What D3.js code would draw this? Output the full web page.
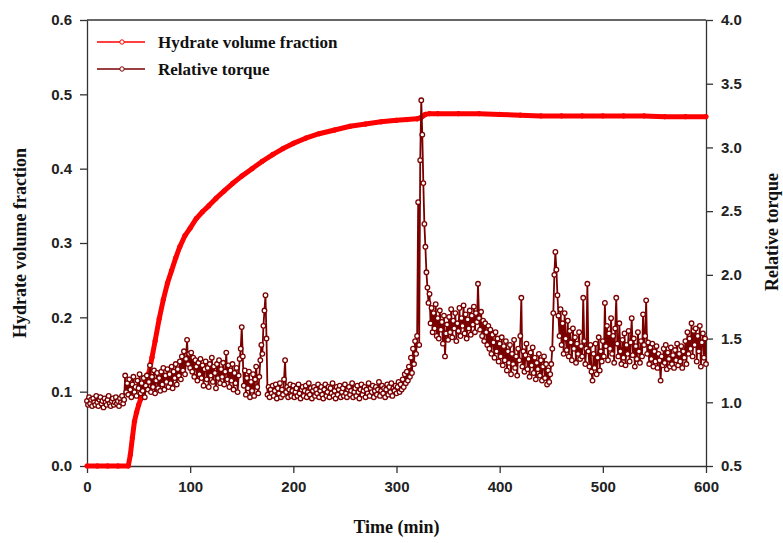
<!DOCTYPE html>
<html>
<head>
<meta charset="utf-8">
<script src="https://cdn.jsdelivr.net/npm/d3@7"></script>
<style>
	body { margin: 0; background: #fff; }
	.tick text { font-family: "Liberation Sans", Arial, sans-serif; font-weight: bold; font-size: 15px; fill: #222; }
	.axis path, .axis line { stroke: #333; stroke-width: 1.3; }
	.title { font-family: "Liberation Serif", "Times New Roman", serif; font-weight: bold; font-size: 18px; fill: #111; }
</style>
</head>
<body>
<script>
const WIDTH = 783;
const HEIGHT = 543;
const LEFT = 87, RIGHT = 706, TOP = 20, BOTTOM = 466;

const SERIES = ['Hydrate volume fraction', 'Relative torque'];
const X_TICKS = [0, 100, 200, 300, 400, 500, 600];
const LEFT_TICKS = [0.0, 0.1, 0.2, 0.3, 0.4, 0.5, 0.6];
const RIGHT_TICKS = [0.5, 1.0, 1.5, 2.0, 2.5, 3.0, 3.5, 4.0];

// hydrate volume fraction (left axis)
const hydrateTime = [0, 10, 20, 30, 40, 42, 44, 46, 48, 50, 52, 54, 56, 58, 60, 63, 66, 70, 74, 78,
	82, 86, 90, 95, 100, 106, 112, 118, 125, 133, 141, 150, 160, 170, 180, 190, 200, 212, 225, 240,
	255, 270, 285, 300, 310, 320, 324, 328, 332, 340, 360, 380, 400, 420, 440, 460, 480, 500, 520, 540,
	560, 580, 600];
const hydrateValue = [0, 0, 0, 0, 0, 0.015, 0.038, 0.060, 0.072, 0.082, 0.090, 0.097, 0.104, 0.112, 0.125, 0.146, 0.168, 0.198, 0.224, 0.246,
	0.263, 0.280, 0.295, 0.310, 0.320, 0.333, 0.342, 0.350, 0.360, 0.370, 0.380, 0.390, 0.400, 0.410, 0.419, 0.427, 0.434, 0.441, 0.447, 0.452,
	0.457, 0.460, 0.463, 0.465, 0.466, 0.467, 0.469, 0.473, 0.474, 0.474, 0.474, 0.474, 0.473, 0.472, 0.471, 0.471, 0.471, 0.471, 0.471, 0.471,
	0.470, 0.470, 0.470];

// relative torque (right axis), one reading per minute from 0 to 600
const torqueValue = [
	1.01, 0.98, 1.04, 0.99, 1.02, 0.97, 1.03, 1.00, 0.98, 1.05,
	1.00, 0.97, 1.02, 1.04, 0.99, 1.01, 0.96, 1.03, 1.00, 0.98,
	1.02, 1.05, 0.99, 0.97, 1.01, 1.03, 0.98, 1.00, 1.04, 0.99,
	1.01, 0.97, 1.03, 1.00, 1.05, 0.99, 1.02, 1.21, 1.08, 1.15,
	1.06, 1.18, 1.10, 1.04, 1.14, 1.20, 1.08, 1.12, 1.05, 1.17,
	1.11, 1.22, 1.07, 1.15, 1.09, 1.19, 1.04, 1.13, 1.21, 1.10,
	1.16, 1.29, 1.08, 1.20, 1.12, 1.25, 1.07, 1.17, 1.23, 1.11,
	1.19, 1.09, 1.24, 1.14, 1.27, 1.10, 1.21, 1.16, 1.26, 1.12,
	1.22, 1.15, 1.28, 1.11, 1.24, 1.19, 1.30, 1.14, 1.26, 1.21,
	1.32, 1.18, 1.36, 1.25, 1.40, 1.22, 1.34, 1.49, 1.30, 1.38,
	1.27, 1.39, 1.24, 1.35, 1.20, 1.33, 1.28, 1.17, 1.31, 1.22,
	1.34, 1.19, 1.29, 1.13, 1.26, 1.32, 1.18, 1.27, 1.12, 1.30,
	1.21, 1.35, 1.16, 1.28, 1.23, 1.11, 1.30, 1.19, 1.33, 1.15,
	1.26, 1.20, 1.31, 1.14, 1.24, 1.39, 1.18, 1.29, 1.12, 1.25,
	1.17, 1.30, 1.10, 1.23, 1.15, 1.27, 1.08, 1.21, 1.34, 1.42,
	1.59, 1.36, 1.13, 1.25, 1.06, 1.19, 1.11, 1.24, 1.04, 1.16,
	1.09, 1.22, 1.05, 1.18, 1.28, 1.12, 1.07, 1.20, 1.33, 1.45,
	1.38, 1.60, 1.72, 1.84, 1.50, 1.06, 1.12, 1.04, 1.10, 1.07,
	1.13, 1.05, 1.09, 1.14, 1.03, 1.11, 1.07, 1.15, 1.04, 1.10,
	1.06, 1.18, 1.33, 1.08, 1.12, 1.04, 1.10, 1.14, 1.05, 1.09,
	1.13, 1.04, 1.08, 1.11, 1.05, 1.14, 1.07, 1.03, 1.10, 1.12,
	1.05, 1.09, 1.13, 1.04, 1.08, 1.15, 1.06, 1.11, 1.03, 1.09,
	1.12, 1.05, 1.10, 1.07, 1.14, 1.04, 1.09, 1.12, 1.06, 1.03,
	1.10, 1.14, 1.05, 1.08, 1.12, 1.04, 1.11, 1.07, 1.15, 1.05,
	1.09, 1.03, 1.12, 1.06, 1.10, 1.13, 1.04, 1.08, 1.11, 1.05,
	1.14, 1.07, 1.04, 1.10, 1.12, 1.06, 1.09, 1.15, 1.04, 1.08,
	1.11, 1.05, 1.13, 1.08, 1.03, 1.10, 1.14, 1.06, 1.09, 1.12,
	1.04, 1.10, 1.07, 1.15, 1.05, 1.11, 1.08, 1.13, 1.04, 1.09,
	1.12, 1.06, 1.10, 1.16, 1.05, 1.09, 1.13, 1.07, 1.11, 1.04,
	1.10, 1.14, 1.06, 1.12, 1.08, 1.15, 1.05, 1.11, 1.09, 1.13,
	1.07, 1.12, 1.16, 1.08, 1.14, 1.10, 1.18, 1.12, 1.22, 1.15,
	1.24, 1.17, 1.28, 1.20, 1.35, 1.23, 1.42, 1.30, 1.48, 1.38,
	1.52, 2.57, 1.45, 2.90, 3.37, 3.10, 2.72, 2.40, 2.22, 2.02,
	1.90, 1.78, 1.85, 1.62, 1.74, 1.55, 1.70, 1.58, 1.77, 1.52,
	1.66, 1.50, 1.72, 1.57, 1.63, 1.46, 1.68, 1.36, 1.54, 1.61,
	1.49, 1.67, 1.55, 1.73, 1.51, 1.64, 1.58, 1.70, 1.48, 1.62,
	1.56, 1.74, 1.52, 1.66, 1.60, 1.76, 1.54, 1.69, 1.50, 1.65,
	1.58, 1.72, 1.53, 1.68, 1.61, 1.75, 1.55, 1.70, 1.63, 1.93,
	1.66, 1.57, 1.71, 1.52, 1.64, 1.48, 1.62, 1.55, 1.45, 1.60,
	1.42, 1.57, 1.38, 1.53, 1.47, 1.35, 1.55, 1.40, 1.50, 1.32,
	1.46, 1.36, 1.51, 1.29, 1.44, 1.33, 1.48, 1.25, 1.40, 1.31,
	1.45, 1.22, 1.38, 1.30, 1.49, 1.27, 1.36, 1.21, 1.42, 1.33,
	1.52, 1.82, 1.28, 1.40, 1.24, 1.37, 1.46, 1.26, 1.34, 1.20,
	1.39, 1.29, 1.43, 1.23, 1.35, 1.18, 1.31, 1.26, 1.38, 1.21,
	1.33, 1.17, 1.28, 1.36, 1.19, 1.30, 1.14, 1.25, 1.16, 1.22,
	1.30, 1.42, 1.70, 2.00, 2.18, 2.04, 1.84, 1.68, 1.52, 1.73,
	1.45, 1.62, 1.38, 1.70, 1.50, 1.41, 1.64, 1.36, 1.56, 1.47,
	1.33, 1.58, 1.42, 1.51, 1.31, 1.46, 1.38, 1.55, 1.34, 1.44,
	1.36, 1.82, 1.48, 1.30, 1.42, 1.93, 1.40, 1.28, 1.45, 1.24,
	1.17, 1.38, 1.27, 1.46, 1.22, 1.35, 1.51, 1.25, 1.40, 1.32,
	1.48, 1.36, 1.78, 1.44, 1.60, 1.33, 1.54, 1.42, 1.66, 1.38,
	1.52, 1.31, 1.58, 1.82, 1.46, 1.36, 1.62, 1.40, 1.30, 1.49,
	1.35, 1.54, 1.29, 1.45, 1.38, 1.56, 1.32, 1.47, 1.66, 1.37,
	1.50, 1.28, 1.44, 1.34, 1.55, 1.40, 1.31, 1.48, 1.36, 1.69,
	1.45, 1.52, 1.80, 1.38, 1.47, 1.30, 1.43, 1.34, 1.46, 1.28,
	1.40, 1.32, 1.44, 1.27, 1.38, 1.33, 1.17, 1.36, 1.29, 1.42,
	1.31, 1.45, 1.26, 1.39, 1.34, 1.28, 1.43, 1.30, 1.37, 1.27,
	1.41, 1.33, 1.46, 1.29, 1.38, 1.32, 1.44, 1.27, 1.40, 1.35,
	1.48, 1.30, 1.55, 1.38, 1.50, 1.42, 1.62, 1.36, 1.56, 1.45,
	1.58, 1.32, 1.52, 1.40, 1.60, 1.28, 1.47, 1.54, 1.35, 1.50,
	1.30
];
const TORQUE_STEP = 1;

const HYDRATE_COLOR = '#ff0000';
const TORQUE_COLOR = '#7a0000';

var drawGraph = function(){
	var svg = d3.select('body')
		.append('svg')
		.attr('width', WIDTH)
		.attr('height', HEIGHT);

	var xScale = d3.scaleLinear().domain([0, 600]).range([LEFT, RIGHT]);
	var yLeft = d3.scaleLinear().domain([0, 0.6]).range([BOTTOM, TOP]);
	var yRight = d3.scaleLinear().domain([0.5, 4.0]).range([BOTTOM, TOP]);

	// frame top line
	svg.append('line')
		.attr('x1', LEFT).attr('x2', RIGHT)
		.attr('y1', TOP).attr('y2', TOP)
		.attr('stroke', '#333').attr('stroke-width', 1.3);

	svg.append('g').attr('class', 'axis')
		.attr('transform', 'translate(0,' + BOTTOM + ')')
		.call(d3.axisBottom(xScale).tickValues(X_TICKS).tickSize(7).tickPadding(8).tickSizeOuter(0).tickFormat(d3.format('d')));

	svg.append('g').attr('class', 'axis')
		.attr('transform', 'translate(' + LEFT + ',0)')
		.call(d3.axisLeft(yLeft).tickValues(LEFT_TICKS).tickSize(7).tickPadding(8).tickSizeOuter(0).tickFormat(d3.format('.1f')));

	svg.append('g').attr('class', 'axis')
		.attr('transform', 'translate(' + RIGHT + ',0)')
		.call(d3.axisRight(yRight).tickValues(RIGHT_TICKS).tickSize(7).tickPadding(8).tickSizeOuter(0).tickFormat(d3.format('.1f')));

	var plot = svg.append('g');

	// hydrate volume fraction
	var hydrate = hydrateTime.map(function(t, i){ return {x: t, y: hydrateValue[i]}; });
	var hydrateLine = d3.line()
		.x(function(d){ return xScale(d.x); })
		.y(function(d){ return yLeft(d.y); });

	plot.append('path')
		.attr('d', hydrateLine(hydrate))
		.attr('fill', 'none')
		.attr('stroke', HYDRATE_COLOR)
		.attr('stroke-width', 5)
		.attr('stroke-linejoin', 'round');

	plot.append('g').selectAll('circle')
		.data(hydrate)
		.enter().append('circle')
		.attr('cx', function(d){ return xScale(d.x); })
		.attr('cy', function(d){ return yLeft(d.y); })
		.attr('r', 2.2)
		.attr('fill', HYDRATE_COLOR)
		.attr('stroke', HYDRATE_COLOR);

	// relative torque
	var torque = torqueValue.map(function(v, i){ return {x: i * TORQUE_STEP, y: v}; });
	var torqueLine = d3.line()
		.x(function(d){ return xScale(d.x); })
		.y(function(d){ return yRight(d.y); });

	plot.append('path')
		.attr('d', torqueLine(torque))
		.attr('fill', 'none')
		.attr('stroke', TORQUE_COLOR)
		.attr('stroke-width', 1.8);

	plot.append('g').selectAll('circle')
		.data(torque)
		.enter().append('circle')
		.attr('cx', function(d){ return xScale(d.x); })
		.attr('cy', function(d){ return yRight(d.y); })
		.attr('r', 2.3)
		.attr('fill', '#fff')
		.attr('stroke', TORQUE_COLOR)
		.attr('stroke-width', 1.3);

	// legend
	var legend = svg.append('g');
	var colors = [HYDRATE_COLOR, TORQUE_COLOR];
	SERIES.forEach(function(name, i){
		var y = 42 + i * 27;
		legend.append('line')
			.attr('x1', 97).attr('x2', 145)
			.attr('y1', y).attr('y2', y)
			.attr('stroke', colors[i]).attr('stroke-width', 1.3);
		legend.append('circle')
			.attr('cx', 122).attr('cy', y).attr('r', 2.2)
			.attr('fill', '#fff').attr('stroke', colors[i]).attr('stroke-width', 1);
		legend.append('text')
			.attr('class', 'title')
			.attr('x', 158).attr('y', y + 6)
			.style('font-size', '17px')
			.text(name);
	});

	// axis titles
	svg.append('text')
		.attr('class', 'title')
		.attr('x', (LEFT + RIGHT) / 2).attr('y', 533)
		.attr('text-anchor', 'middle')
		.text('Time (min)');

	svg.append('text')
		.attr('class', 'title')
		.attr('transform', 'translate(26,' + ((TOP + BOTTOM) / 2) + ') rotate(-90)')
		.attr('text-anchor', 'middle')
		.text('Hydrate volume fraction');

	svg.append('text')
		.attr('class', 'title')
		.attr('transform', 'translate(778,232) rotate(-90)')
		.attr('text-anchor', 'middle')
		.text('Relative torque');
}

drawGraph();
</script>
</body>
</html>
